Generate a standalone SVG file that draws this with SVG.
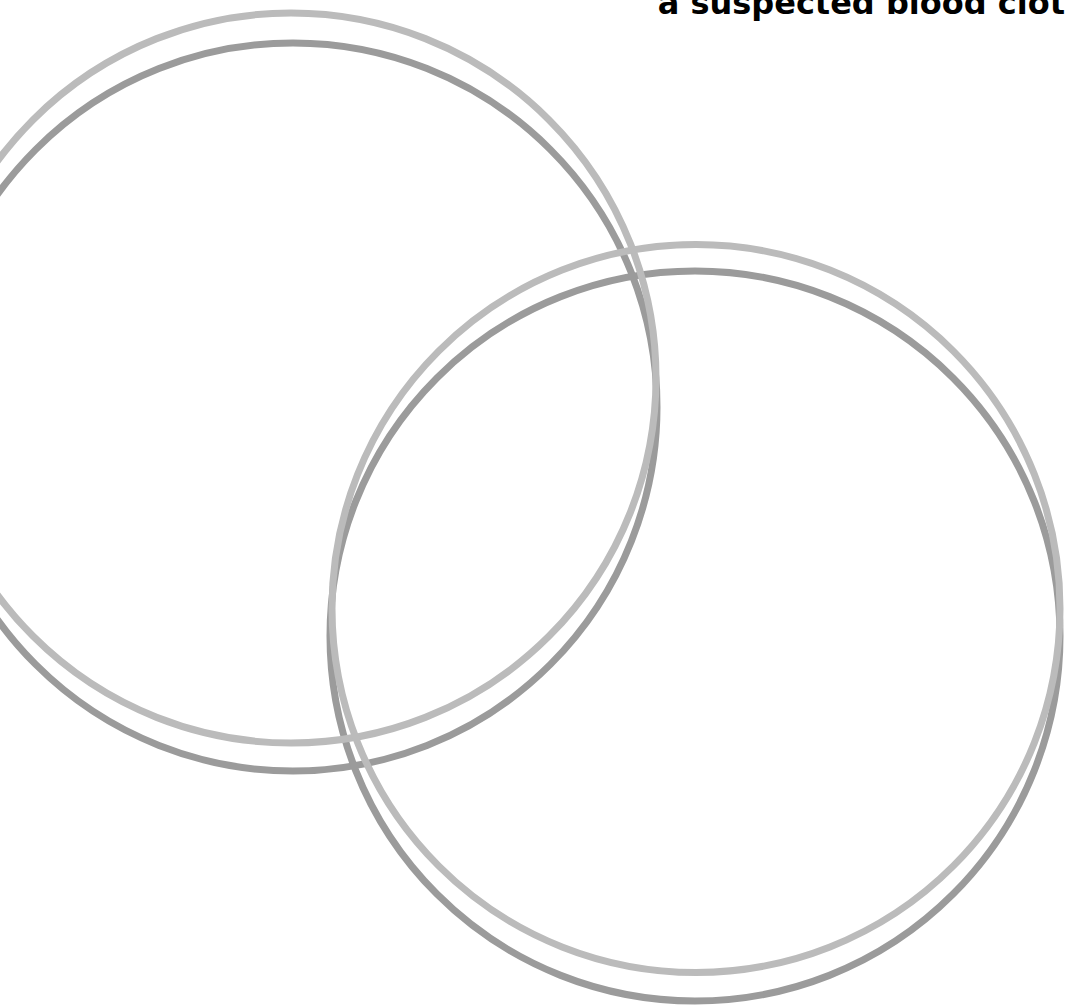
<svg xmlns="http://www.w3.org/2000/svg" width="1067" height="1005" viewBox="0 0 1067 1005">
<style>
.shadow{fill:none;stroke:#9b9b9b;stroke-width:7}
.ring{fill:none;stroke:#bbbbbb;stroke-width:7}
.title{font-family:"DejaVu Sans",Verdana,sans-serif;font-weight:bold;font-size:32px;fill:#000}
</style>
<rect width="1067" height="1005" fill="#ffffff"/>
<g id="set-left">
<circle class="shadow" cx="293" cy="407" r="364"/>
</g>
<g id="set-right">
<circle class="shadow" cx="695" cy="636" r="365"/>
</g>
<g id="set-left-ring">
<circle class="ring" cx="291" cy="378" r="365"/>
</g>
<g id="set-right-ring">
<circle class="ring" cx="696" cy="608.5" r="364"/>
</g>
<g id="title">
<text class="title" x="1065" y="14" text-anchor="end">a suspected blood clot</text>
</g>
</svg>
